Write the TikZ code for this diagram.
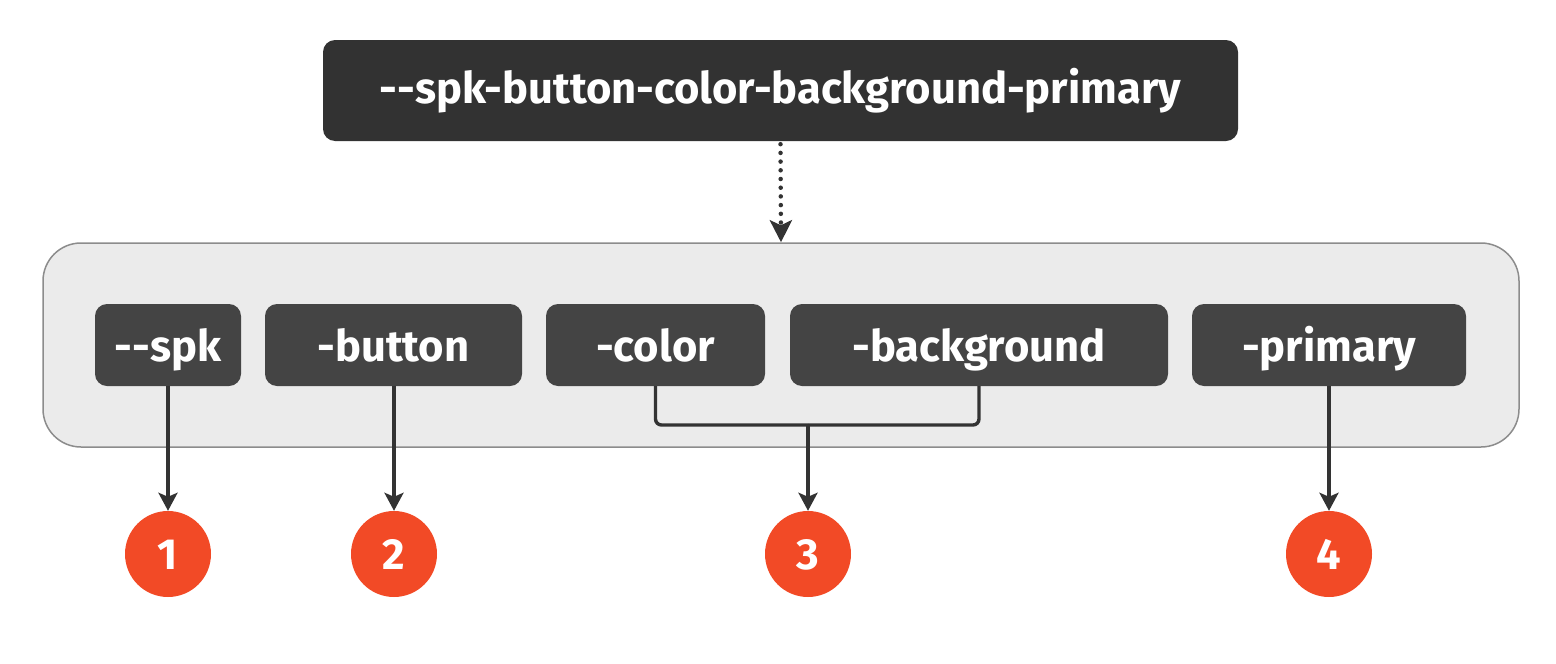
\documentclass[tikz,border=0pt]{standalone}
\usepackage{fontspec}
\newfontfamily\labelfont{Fira Sans}[BoldFont={* Bold}]
\usetikzlibrary{arrows.meta,positioning}
\definecolor{topfill}{HTML}{323232}
\definecolor{partfill}{HTML}{444444}
\definecolor{contfill}{HTML}{EBEBEB}
\definecolor{contdraw}{HTML}{8C8C8C}
\definecolor{linecol}{HTML}{333333}
\definecolor{badge}{HTML}{F24A26}
\tikzset{
  x=1pt,y=-1pt,
  lblfont/.style={font=\labelfont\fontsize{43.5}{48}\selectfont\bfseries},
  topbox/.style={lblfont,fill=topfill,rounded corners=12pt,text=white,minimum width=915pt,minimum height=101pt,inner sep=0pt,text height=34pt,text depth=8pt},
  partbox/.style={lblfont,fill=partfill,rounded corners=12pt,text=white,minimum height=82pt,inner sep=0pt,text height=40pt,text depth=8pt},
  contbox/.style={fill=contfill,draw=contdraw,line width=1.5pt,rounded corners=38pt,minimum width=1476pt,minimum height=204pt,inner sep=0pt},
  badgenode/.style={lblfont,circle,fill=badge,text=white,minimum size=86pt,inner sep=0pt,text height=38pt,text depth=8pt},
  conn/.style={draw=linecol,line width=3.4pt,-{Stealth[length=18pt,width=19pt,inset=4pt]}},
  plainconn/.style={draw=linecol,line width=3.4pt,rounded corners=6pt},
  dotconn/.style={draw=linecol,line width=4.5pt,line cap=round,dash pattern=on 0pt off 8.7pt,-{Stealth[length=22pt,width=22pt,inset=5pt]}}
}
\begin{document}
\begin{tikzpicture}
\useasboundingbox (0,0) rectangle (1556,664);
\node[contbox] (cont) at (781,345) {};
\node[topbox] (top) at (780.5,90.5) {--spk-button-color-background-primary};
\node[partbox,minimum width=146pt] (spk) at (168,345) {--spk};
\node[partbox,minimum width=257pt] (button) at (393.5,345) {-button};
\node[partbox,minimum width=219pt] (color) at (655.5,345) {-color};
\node[partbox,minimum width=378pt] (bg) at (979,345) {-background};
\node[partbox,minimum width=274pt] (primary) at (1329,345) {-primary};
\node[badgenode] (b1) at (168,554) {1};
\node[badgenode] (b2) at (394,554) {2};
\node[badgenode] (b3) at (808,554) {3};
\node[badgenode] (b4) at (1329,554) {4};
\coordinate (join) at (808,425);
\draw[dotconn] ([yshift=-3pt]top.south) -- (cont.north);
\draw[conn] (spk.south) -- (b1.north);
\draw[conn] (button.south -| b2.north) -- (b2.north);
\draw[plainconn] (color.south) |- (join);
\draw[plainconn] (bg.south) |- (join);
\draw[conn] (join) -- (b3.north);
\draw[conn] (primary.south) -- (b4.north);
\end{tikzpicture}
\end{document}
